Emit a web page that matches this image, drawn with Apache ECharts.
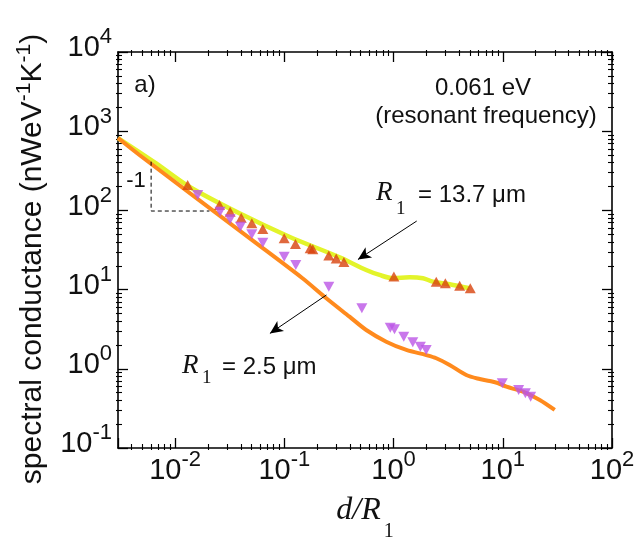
<!DOCTYPE html>
<html><head><meta charset="utf-8">
<script src="https://cdn.jsdelivr.net/npm/echarts@6/dist/echarts.min.js"></script>
<style>html,body{margin:0;padding:0;background:#fff}#c{width:637px;height:541px}</style>
</head><body><div id="c"></div>
<script>
// ---- data ----
const curve137X = [0.003, 0.0067, 0.0135, 0.0388, 0.111, 0.320, 0.562, 0.745, 0.987, 1.40, 1.86, 2.29, 3.26, 4.97];
const curve137Y = [820, 393, 199, 91.8, 46.5, 25.6, 17.7, 15.3, 13.9, 14.3, 13.9, 12.6, 11.7, 10.4];
const curve25X = [0.003, 0.00471, 0.048, 0.1466, 0.233, 0.395, 0.562, 0.857, 1.31, 1.99, 2.46, 3.26, 4.63, 6.14, 7.58, 8.98, 10.8, 15.3, 21.8, 29.9];
const curve25Y = [820, 501, 44.6, 13.9, 8.13, 4.55, 3.09, 2.20, 1.73, 1.49, 1.36, 1.12, 0.835, 0.743, 0.701, 0.662, 0.594, 0.514, 0.404, 0.302];
const pts137X = [0.01303, 0.02547, 0.0319, 0.0403, 0.0504, 0.0635, 0.0997, 0.1264, 0.1725, 0.1823, 0.2553, 0.2985, 0.351, 1.007, 2.46, 2.98, 4.03, 5.04];
const pts137Y = [209, 117, 96.3, 80.9, 68.7, 58.2, 44.4, 37.6, 33.2, 32.3, 27.0, 24.7, 22.3, 14.6, 12.6, 12.0, 11.2, 10.4];
const pts25X = [0.0161, 0.0258, 0.0319, 0.0396, 0.0504, 0.0635, 0.0997, 0.1273, 0.2553, 0.5126, 0.933, 1.02, 1.24, 1.50, 1.76, 1.99, 9.9, 13.97, 16.1, 18.0];
const pts25Y = [156, 96.3, 77.2, 62.3, 49.9, 39.1, 26.0, 20.5, 10.9, 5.81, 3.30, 3.15, 2.54, 2.16, 1.90, 1.73, 0.656, 0.540, 0.491, 0.445];
const slopeX = [0.00603, 0.00603, 0.0206];
const slopeY = [412, 98.2, 98.2];
const arrow137 = [[1.63, 73.4], [0.472, 24.0]];
const arrow25 = [[0.243, 8.55], [0.0738, 2.80]];
const xExponents = [-2, -1, 0, 1, 2];
const yExponents = [-1, 0, 1, 2, 3, 4];
const X_MIN = 0.003, X_MAX = 100, Y_MIN = 0.1, Y_MAX = 10000;

// ---- styling ----
const SANS = '"Liberation Sans", Arial, sans-serif';
const SERIF = '"Liberation Serif", "Times New Roman", serif';
const INK = '#111';
const zip = (a, b) => a.map((v, i) => [v, b[i]]);

function powLabel(exps) {
  return function (v) {
    const e = Math.log10(v), k = Math.round(e);
    if (Math.abs(e - k) > 1e-6 || exps.indexOf(k) < 0) return '';
    return '{b|10}{s|' + k + '}';
  };
}
const labelRich = {
  b: {fontSize: 29, fontFamily: SANS, color: INK, verticalAlign: 'bottom'},
  s: {fontSize: 22, fontFamily: SANS, color: INK, verticalAlign: 'top', padding: [0, 0, 14.5, 0]}
};
function minorVals(min, max) {
  const out = [];
  for (let k = Math.floor(Math.log10(min)); k < Math.ceil(Math.log10(max)); k++)
    for (let m = 2; m <= 9; m++) {
      const v = m * Math.pow(10, k);
      if (v > min * 1.0001 && v < max * 0.9999) out.push(Math.log10(v));
    }
  return out;
}
const axisLineStyle = {color: '#000', width: 1.6};
function mainAxis(pos, min, max, showLabel, exps, extra) {
  return Object.assign({
    type: 'log', logBase: 10, position: pos, min: min, max: max,
    axisLine: {show: true, onZero: false, lineStyle: axisLineStyle},
    axisTick: {show: true, inside: true, length: 10, lineStyle: {color: '#000', width: 1.3}},
    minorTick: {show: false}, splitLine: {show: false}, minorSplitLine: {show: false},
    axisLabel: showLabel ? {show: true, formatter: powLabel(exps), rich: labelRich, color: INK} : {show: false}
  }, extra || {});
}
function minorAxis(pos, min, max) {
  const lmin = Math.log10(min), lmax = Math.log10(max);
  return {
    type: 'value', position: pos, offset: 2, min: lmin, max: lmax,
    axisLine: {show: false, onZero: false}, axisLabel: {show: false}, splitLine: {show: false},
    axisTick: {show: true, inside: true, length: 6, customValues: minorVals(min, max), lineStyle: {color: '#000', width: 1.1}}
  };
}

const chart = echarts.init(document.getElementById('c'), null, {renderer: 'canvas'});
chart.setOption({
  animation: false,
  backgroundColor: '#fff',
  grid: {left: 118, right: 25, top: 52, bottom: 93, containLabel: false, outerBoundsMode: 'none'},
  xAxis: [
    mainAxis('bottom', X_MIN, X_MAX, true, xExponents, {
      axisLabel: {show: true, formatter: powLabel(xExponents), rich: labelRich, color: INK, margin: 1},
      name: '{i|d/R}{u|1}', nameLocation: 'middle', nameGap: 47,
      nameTextStyle: {rich: {
        i: {fontSize: 32, fontFamily: SERIF, fontStyle: 'italic', color: INK, verticalAlign: 'top'},
        u: {fontSize: 20, fontFamily: SERIF, color: INK, verticalAlign: 'bottom', padding: [27, 0, 0, 3]}
      }}
    }),
    mainAxis('top', X_MIN, X_MAX, false),
    minorAxis('bottom', X_MIN, X_MAX),
    minorAxis('top', X_MIN, X_MAX)
  ],
  yAxis: [
    mainAxis('left', Y_MIN, Y_MAX, true, yExponents, {
      axisLabel: {show: true, formatter: powLabel(yExponents), rich: labelRich, color: INK, margin: 6, padding: [0, 0, 15, 0]},
      name: '{m|spectral conductance (nWeV}{s|-1}{m|K}{s|-1}{m|)}',
      nameLocation: 'middle', nameRotate: 90, nameGap: 70,
      nameTextStyle: {padding: [0, 18, 0, 0], rich: {
        m: {fontSize: 30, fontFamily: SANS, color: INK, verticalAlign: 'bottom'},
        s: {fontSize: 21, fontFamily: SANS, color: INK, verticalAlign: 'top', padding: [0, 0, 13.5, 0]}
      }}
    }),
    mainAxis('right', Y_MIN, Y_MAX, false),
    minorAxis('left', Y_MIN, Y_MAX),
    minorAxis('right', Y_MIN, Y_MAX)
  ],
  series: [
    {type: 'line', name: 'R1 = 13.7 um', data: zip(curve137X, curve137Y), showSymbol: false, smooth: 0.3,
     lineStyle: {color: '#e3f42a', width: 4.5}, z: 2},
    {type: 'line', name: 'R1 = 2.5 um', data: zip(curve25X, curve25Y), showSymbol: false, smooth: 0.3,
     lineStyle: {color: '#ff8a1d', width: 4}, z: 3},
    {type: 'scatter', name: 'exp 13.7', data: zip(pts137X, pts137Y), symbol: 'triangle', symbolSize: [11, 10],
     itemStyle: {color: '#d8420c'}, z: 5},
    {type: 'scatter', name: 'exp 2.5', data: zip(pts25X, pts25Y), symbol: 'triangle', symbolRotate: 180, symbolSize: [11, 10],
     itemStyle: {color: '#bb55e6'}, z: 5},
    {type: 'line', name: 'slope', data: zip(slopeX, slopeY), showSymbol: false, silent: true,
     lineStyle: {color: '#000', width: 1, type: [4, 3]}, z: 4,
     markLine: {silent: true, symbol: ['none', 'arrow'], symbolSize: [9, 13], label: {show: false},
       lineStyle: {color: '#000', width: 1, type: 'solid'},
       data: [
         [{coord: arrow137[0]}, {coord: arrow137[1]}],
         [{coord: arrow25[0]}, {coord: arrow25[1]}]
       ]}}
  ],
  graphic: [
    {type: 'text', style: {text: 'a)', x: 145, y: 85, font: '24px ' + SANS, fill: INK, textAlign: 'center', textVerticalAlign: 'middle', align: 'center', verticalAlign: 'middle'}},
    {type: 'text', style: {text: '0.061 eV', x: 483, y: 88, font: '24px ' + SANS, fill: INK, textAlign: 'center', textVerticalAlign: 'middle', align: 'center', verticalAlign: 'middle'}},
    {type: 'text', style: {text: '(resonant frequency)', x: 486, y: 116, font: '24px ' + SANS, fill: INK, textAlign: 'center', textVerticalAlign: 'middle', align: 'center', verticalAlign: 'middle'}},
    {type: 'text', style: {text: '-1', x: 136, y: 181, font: '22px ' + SANS, fill: INK, textAlign: 'center', textVerticalAlign: 'middle', align: 'center', verticalAlign: 'middle'}},
    {type: 'text', style: {text: 'R', x: 376, y: 193, font: 'italic 27px ' + SERIF, fill: INK, textAlign: 'left', textVerticalAlign: 'middle', align: 'left', verticalAlign: 'middle'}},
    {type: 'text', style: {text: '1', x: 396, y: 209, font: '19px ' + SERIF, fill: INK, textAlign: 'left', textVerticalAlign: 'middle', align: 'left', verticalAlign: 'middle'}},
    {type: 'text', style: {text: '= 13.7 μm', x: 418, y: 195, font: '24px ' + SANS, fill: INK, textAlign: 'left', textVerticalAlign: 'middle', align: 'left', verticalAlign: 'middle'}},
    {type: 'text', style: {text: 'R', x: 182, y: 366, font: 'italic 27px ' + SERIF, fill: INK, textAlign: 'left', textVerticalAlign: 'middle', align: 'left', verticalAlign: 'middle'}},
    {type: 'text', style: {text: '1', x: 202, y: 378, font: '19px ' + SERIF, fill: INK, textAlign: 'left', textVerticalAlign: 'middle', align: 'left', verticalAlign: 'middle'}},
    {type: 'text', style: {text: '= 2.5 μm', x: 222, y: 367, font: '24px ' + SANS, fill: INK, textAlign: 'left', textVerticalAlign: 'middle', align: 'left', verticalAlign: 'middle'}}
  ]
});
</script>
</body></html>
